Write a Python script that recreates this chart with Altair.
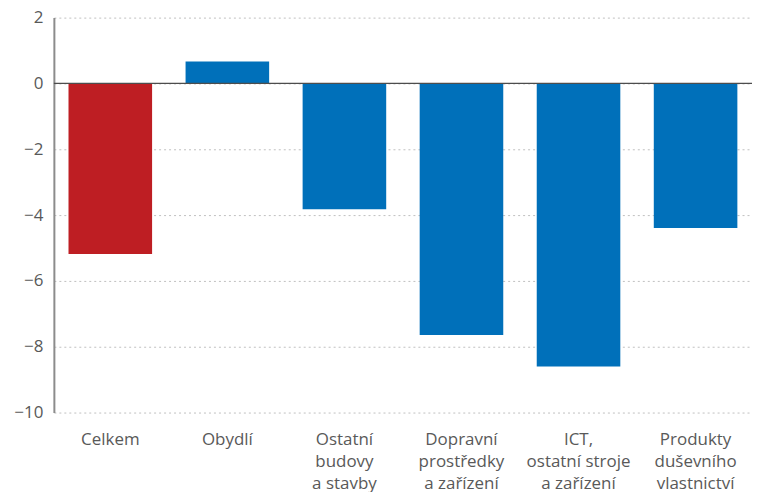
import altair as alt
import pandas as pd

categories = ["Celkem", "Obydlí", "Ostatní|budovy|a stavby", "Dopravní|prostředky|a zařízení",
              "ICT,|ostatní stroje|a zařízení", "Produkty|duševního|vlastnictví"]
values = [-5.18, 0.67, -3.82, -7.64, -8.6, -4.39]
colors = ["#BE1E23", "#0070BA", "#0070BA", "#0070BA", "#0070BA", "#0070BA"]
y_ticks = [-10, -8, -6, -4, -2, 0, 2]

df = pd.DataFrame({"cat": categories, "val": values, "col": colors})

FONT = "Open Sans"

bars = alt.Chart(df).mark_bar().encode(
    x=alt.X("cat:N", sort=None, title=None,
            scale=alt.Scale(paddingInner=0.286, paddingOuter=0.125),
            axis=alt.Axis(labelExpr="split(datum.label, '|')", labelAngle=0,
                          labelFont=FONT, labelFontSize=17, labelColor="#595959",
                          labelPadding=27, ticks=False, domain=False, labelLineHeight=22,
                          labelBaseline="middle")),
    y=alt.Y("val:Q", title=None,
            scale=alt.Scale(domain=[-10, 2], nice=False),
            axis=alt.Axis(values=y_ticks, labelFont=FONT, labelFontSize=17,
                          labelColor="#595959", ticks=False, labelPadding=11,
                          domainColor="#8c8c8c", domainWidth=2,
                          gridColor="#c0c0c0", gridDash=[2, 3], gridWidth=1,
                          labelExpr="replace(format(datum.value, 'd'), '-', '\u2212')")),
    color=alt.Color("col:N", scale=None),
)

zero = alt.Chart(pd.DataFrame({"z": [0]})).mark_rule(color="#4d4d4d", strokeWidth=1.3).encode(
    y="z:Q"
)

chart = alt.layer(bars, zero).properties(
    width=700, height=396,
    padding={"left": 5, "top": 0, "right": 0, "bottom": 0},
).configure_view(strokeWidth=0)

chart.save("out.html", embed_options={"renderer": "svg", "actions": False})
